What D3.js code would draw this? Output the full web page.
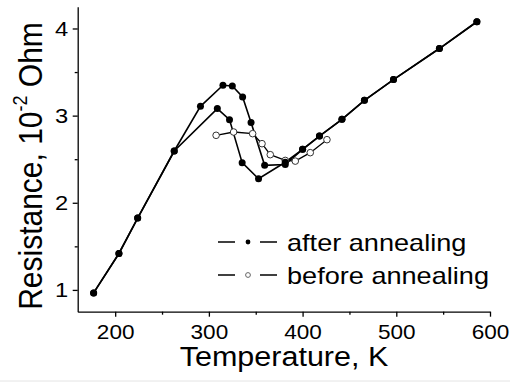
<!DOCTYPE html>
<html>
<head>
<meta charset="utf-8">
<script src="https://cdn.jsdelivr.net/npm/d3@7"></script>
<style>
  body { margin: 0; background: #fff; }
  svg text { font-family: "Liberation Sans", Arial, sans-serif; fill: #000; }
</style>
</head>
<body>
<div id="chart"></div>
<script>
// after annealing, heating branch
const heatT = [177, 204, 224, 263, 291, 315, 325, 336, 345, 359.5, 381.5, 400, 418, 442, 466, 497, 546, 586];
const heatR = [0.966, 1.418, 1.824, 2.594, 3.107, 3.349, 3.341, 3.214, 2.92, 2.43, 2.44, 2.613, 2.766, 2.958, 3.176, 3.414, 3.77, 4.077];
// after annealing, cooling branch
const coolT = [586, 546, 497, 466, 442, 418, 400, 381.5, 353, 335.5, 322, 309, 263, 224, 204, 177];
const coolR = [4.077, 3.77, 3.414, 3.176, 2.958, 2.766, 2.613, 2.465, 2.276, 2.46, 2.954, 3.081, 2.594, 1.824, 1.418, 0.966];
// before annealing
const beforeT = [307.7, 326.4, 346.7, 356.7, 365.5, 381.5, 392.2, 408.2, 426];
const beforeR = [2.774, 2.812, 2.793, 2.678, 2.552, 2.486, 2.478, 2.575, 2.724];

const xTicks = [200, 300, 400, 500, 600];
const xMinor = [250, 350, 450, 550];
const yTicks = [1, 2, 3, 4];
const yMinor = [1.5, 2.5, 3.5];

const W = 510, H = 385;
const SX = 1.13; // the picture's glyphs are a bit wider than plain Arial

const svg = d3.select("#chart")
    .append("svg")
    .attr("width", W)
    .attr("height", H);

const x = d3.scaleLinear().domain([160, 600]).range([77.7, 490]);
const y = d3.scaleLinear().domain([0.75, 4.25]).range([311.7, 6.7]);

// minor ticks
svg.append("g")
    .attr("transform", `translate(0,${y.range()[0]})`)
    .call(d3.axisBottom(x).tickValues(xMinor).tickSize(3).tickFormat(""))
    .call(g => g.select(".domain").remove());
svg.append("g")
    .attr("transform", `translate(${x.range()[0]},0)`)
    .call(d3.axisLeft(y).tickValues(yMinor).tickSize(3).tickFormat(""))
    .call(g => g.select(".domain").remove());

// x axis
const xAxis = svg.append("g")
    .attr("transform", `translate(0,${y.range()[0]})`)
    .call(d3.axisBottom(x).tickValues(xTicks).tickFormat(d3.format("d"))
        .tickSize(5).tickSizeOuter(0).tickPadding(8));
xAxis.selectAll("text")
    .attr("font-size", 20)
    .attr("transform", `scale(${SX},1)`);

// y axis
const yAxis = svg.append("g")
    .attr("transform", `translate(${x.range()[0]},0)`)
    .call(d3.axisLeft(y).tickValues(yTicks).tickFormat(d3.format("d"))
        .tickSize(5).tickSizeOuter(0).tickPadding(3.5));
yAxis.selectAll("text")
    .attr("font-size", 21)
    .attr("transform", `scale(${SX},1)`);

svg.selectAll(".domain, .tick line").attr("stroke", "#000").attr("stroke-width", 1.3);

// axis titles
svg.append("text")
    .attr("transform", `translate(284,366) scale(${SX},1)`)
    .attr("text-anchor", "middle")
    .attr("font-size", 27)
    .text("Temperature, K");

const yt = svg.append("text")
    .attr("transform", `translate(42,166) rotate(-90) scale(1,${SX})`)
    .attr("text-anchor", "middle")
    .attr("font-size", 30);
yt.append("tspan").text("Resistance, 10");
yt.append("tspan").attr("font-size", 18).attr("dy", -13).text("-2");
yt.append("tspan").attr("dy", 13).text(" Ohm");

// lines
const line = d3.line().x(d => x(d[0])).y(d => y(d[1]));
const heat = heatT.map((t, i) => [t, heatR[i]]);
const cool = coolT.map((t, i) => [t, coolR[i]]);
const before = beforeT.map((t, i) => [t, beforeR[i]]);

[heat, cool].forEach(s => {
  svg.append("path").datum(s)
      .attr("d", line).attr("fill", "none")
      .attr("stroke", "#000").attr("stroke-width", 1.6);
});
svg.append("path").datum(before)
    .attr("d", line).attr("fill", "none")
    .attr("stroke", "#000").attr("stroke-width", 1.3);

svg.append("g").selectAll("circle")
    .data(before)
    .join("circle")
    .attr("cx", d => x(d[0])).attr("cy", d => y(d[1])).attr("r", 3.3)
    .attr("fill", "#fff").attr("stroke", "#333").attr("stroke-width", 1);

svg.append("g").selectAll("circle")
    .data(heat.concat(cool))
    .join("circle")
    .attr("cx", d => x(d[0])).attr("cy", d => y(d[1])).attr("r", 3.5)
    .attr("fill", "#000");

// legend
const legend = [
  { label: "after annealing", fill: "#000", stroke: "none", ly: 242 },
  { label: "before annealing", fill: "#fff", stroke: "#666", ly: 275 }
];
legend.forEach(l => {
  const g = svg.append("g");
  g.append("line").attr("x1", 218).attr("x2", 235).attr("y1", l.ly).attr("y2", l.ly)
      .attr("stroke", "#000").attr("stroke-width", 1.5);
  g.append("line").attr("x1", 260).attr("x2", 277).attr("y1", l.ly).attr("y2", l.ly)
      .attr("stroke", "#000").attr("stroke-width", 1.5);
  g.append("circle").attr("cx", 248).attr("cy", l.ly).attr("r", 2.4)
      .attr("fill", l.fill).attr("stroke", l.stroke).attr("stroke-width", 1);
  g.append("text")
      .attr("transform", `translate(287,${l.ly + 9}) scale(${SX},1)`)
      .attr("font-size", 24)
      .text(l.label);
});

// faint frame line at the bottom of the picture
svg.append("line").attr("x1", 0).attr("x2", W).attr("y1", 381).attr("y2", 381)
    .attr("stroke", "#e4e4e4").attr("stroke-width", 1);
</script>
</body>
</html>
